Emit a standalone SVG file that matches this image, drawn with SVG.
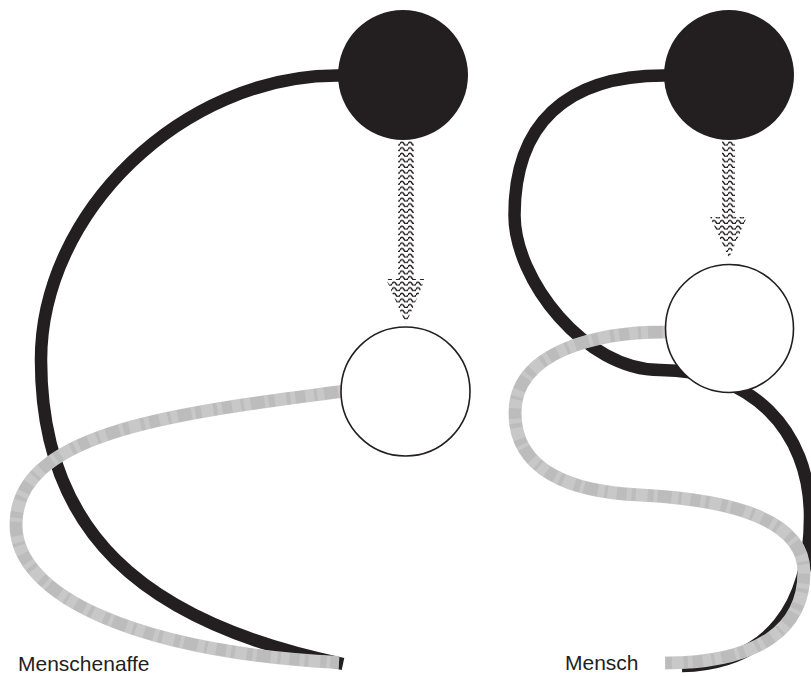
<svg xmlns="http://www.w3.org/2000/svg" width="811" height="677" viewBox="0 0 811 677">
<style>
.dark{fill:#231f20;}
.hollow{fill:#ffffff;stroke:#231f20;stroke-width:1.6;}
.strand{fill:none;stroke:#231f20;stroke-width:12.5;stroke-linecap:butt;}
.band{fill:none;stroke:#c8c8c8;stroke-width:13;stroke-linecap:butt;}
.mottle{fill:none;stroke:#b0b0b0;stroke-width:12;stroke-opacity:0.5;stroke-dasharray:6 4 14 7 3 9 10 5 4 12;}
.label{font-family:"Liberation Sans",Arial,sans-serif;font-size:21px;fill:#231f20;}
.arrow{fill:url(#wave);}
</style>
<defs>
<pattern id="wave" width="8" height="5.6" patternUnits="userSpaceOnUse">
<path d="M0 3.8 Q2 0.4 4 3.8 T8 3.8" fill="none" stroke="#231f20" stroke-width="1.6"/>
</pattern>
<path id="ape-grey-path" d="M348 390.5 L340 391.6 C160 415 16 435 16 525 C16 597 139 652 339 662.5"/>
<path id="human-grey-path" d="M672 331.5 L665 332 C600 332 515 350 515 413 C515 470 570 492 640 495 C700 498 804 510 804 572 C804 628 760 663 665 663"/>
</defs>

<g id="strands">
<path id="ape-black" class="strand" d="M345 75.5 L337 75.5 C183 75.5 41 212 41 360 C41 530 140 622 343 664"/>
<path id="human-black" class="strand" d="M672 75.5 L664 75.5 C565 75.5 514.5 125 514.5 215 C514.5 280 585 370 660 370 C750 370 810 429 810 517 C810 605 770 664 682 666"/>
<use id="ape-grey" href="#ape-grey-path" class="band"/>
<use href="#ape-grey-path" class="mottle"/>
<use id="human-grey" href="#human-grey-path" class="band"/>
<use href="#human-grey-path" class="mottle"/>
</g>

<g id="connectors">
<path id="ape-arrow" class="arrow" d="M398 140 L414 140 L414 279 L425 279 L406 324 L386 279 L398 279 Z"/>
<path id="human-arrow" class="arrow" d="M722 140 L735 140 L735 217 L747 217 L729 258 L710 217 L722 217 Z"/>
</g>

<g id="ape-top"><circle class="dark" cx="403" cy="75" r="65"/></g>
<g id="ape-bottom"><circle class="hollow" cx="405.5" cy="391.5" r="64.5"/></g>
<g id="human-top"><circle class="dark" cx="729" cy="75" r="65"/></g>
<g id="human-bottom"><circle class="hollow" cx="729.5" cy="328.5" r="64"/></g>

<g id="label-ape"><text class="label" x="18" y="671">Menschenaffe</text></g>
<g id="label-human"><text class="label" x="565" y="670">Mensch</text></g>
</svg>
